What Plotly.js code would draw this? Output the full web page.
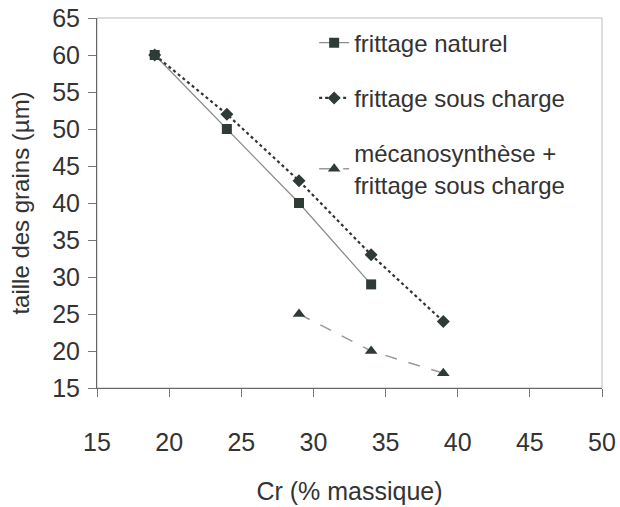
<!DOCTYPE html>
<html><head><meta charset="utf-8">
<script src="https://cdn.plot.ly/plotly-3.0.1.min.js"></script>
<style>body{margin:0;background:#fff}#c{width:620px;height:507px}</style>
</head><body><div id="c"></div>
<script>
const crNaturel = [19, 24, 29, 34];
const tailleNaturel = [60, 50, 40, 29];
const crCharge = [19, 24, 29, 34, 39];
const tailleCharge = [60, 52, 43, 33, 24];
const crMeca = [29, 34, 39];
const tailleMeca = [25, 20, 17];
const seriesNames = ["frittage naturel", "frittage sous charge", "mécanosynthèse +<br>frittage sous charge"];

const mk = '#2f3c36';
const fam = 'Liberation Sans, Arial, sans-serif';
const traces = [
  {x: crNaturel, y: tailleNaturel, name: seriesNames[0], mode: 'lines+markers', legendgroup: 'a',
   line: {color: '#8a8f8c', width: 1.3}, marker: {symbol: 'square', size: 10, color: mk}},
  {x: crCharge, y: tailleCharge, name: seriesNames[1], mode: 'lines+markers', legendgroup: 'b',
   line: {color: '#333', width: 2.2, dash: 'dot'}, marker: {symbol: 'diamond', size: 10, color: mk}},
  {x: crMeca, y: tailleMeca, name: seriesNames[2], mode: 'lines+markers', legendgroup: 'c',
   line: {color: '#999', width: 1.5, dash: '12px,12px'}, marker: {symbol: 'triangle-up', size: 11, color: mk}}
];

const tickFont = {family: fam, size: 25, color: '#333'};
const layout = {
  width: 620, height: 507,
  margin: {l: 97, r: 18, t: 18, b: 119},
  paper_bgcolor: '#fff', plot_bgcolor: '#fff',
  showlegend: true,
  legend: {x: 0.43, y: 0.993, xanchor: 'left', yanchor: 'top', tracegroupgap: 21,
           font: {family: fam, size: 24, color: '#333'},
           bgcolor: 'rgba(0,0,0,0)'},
  xaxis: {range: [15, 50], dtick: 5, showgrid: false, zeroline: false,
          showline: true, linecolor: '#666', linewidth: 1,
          ticks: 'outside', ticklen: 8, tickcolor: '#777', ticklabelstandoff: 24,
          tickfont: tickFont,
          title: {text: 'Cr (% massique)', standoff: 27,
                  font: {family: fam, size: 25, color: '#333'}}},
  yaxis: {range: [15, 65], dtick: 5, showgrid: false, zeroline: false,
          showline: true, linecolor: '#666', linewidth: 1,
          ticks: 'outside', ticklen: 8, tickcolor: '#777', ticklabelstandoff: 3,
          tickfont: tickFont,
          title: {text: 'taille des grains (µm)', standoff: 15,
                  font: {family: fam, size: 24, color: '#333'}}},
  shapes: [{type: 'rect', xref: 'paper', yref: 'paper', x0: 0, x1: 1, y0: 0, y1: 1,
            line: {color: '#bbb', width: 1}, layer: 'below'}]
};
Plotly.newPlot('c', traces, layout, {displayModeBar: false, staticPlot: true});
</script></body></html>
